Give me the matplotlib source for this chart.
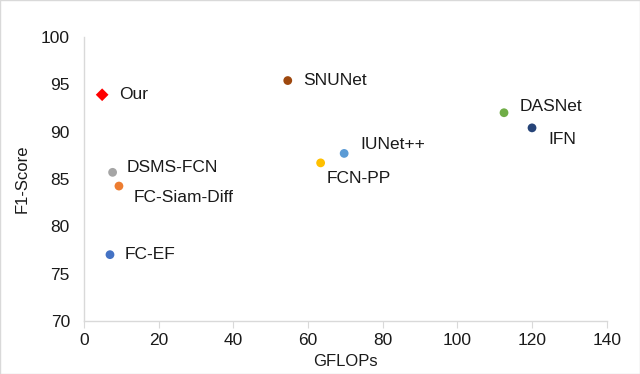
import matplotlib
matplotlib.use("Agg")
import matplotlib.pyplot as plt
from matplotlib.patches import Rectangle

plt.rcParams['font.family'] = ['Liberation Sans', 'DejaVu Sans']

# data
names = ['Our', 'SNUNet', 'DASNet', 'IFN', 'IUNet++', 'FCN-PP',
         'DSMS-FCN', 'FC-Siam-Diff', 'FC-EF']
gflops = [4.9, 54.6, 112.5, 120.0, 69.7, 63.4, 7.7, 9.4, 7.0]
f1 = [93.9, 95.4, 92.0, 90.4, 87.7, 86.7, 85.7, 84.25, 77.0]
colors = ['#FF0000', '#9E480E', '#70AD47', '#264478', '#5B9BD5',
          '#FFC000', '#A5A5A5', '#ED7D31', '#4472C4']
markers = ['D', 'o', 'o', 'o', 'o', 'o', 'o', 'o', 'o']
# label offsets in pixels
offsets = [(17, 0), (15, 0), (16, 6), (16, -12), (16, 9), (6, -16),
           (14, 5), (15, -11), (15, 0)]

fig = plt.figure(figsize=(6.4, 3.74), dpi=100)
ax = fig.add_axes([0.131, 0.142, 0.817, 0.759])
fig.patches.append(Rectangle((0, 0), 1, 1, transform=fig.transFigure,
                             fill=False, edgecolor='#D9D9D9', linewidth=1))

for x, y, c, m in zip(gflops, f1, colors, markers):
    ax.scatter(x, y, color=c, marker=m, s=42 if m == 'D' else 40,
               edgecolors='none', zorder=3)

for n, x, y, (dx, dy) in zip(names, gflops, f1, offsets):
    ax.annotate(n, (x, y), xytext=(dx, dy), textcoords='offset pixels',
                ha='left', va='center', fontsize=12.5, color='#1a1a1a')

ax.set_xlim(0, 140)
ax.set_ylim(70, 100)
ax.set_xticks(range(0, 141, 20))
ax.set_yticks(range(70, 101, 5))
for s in ['top', 'right']:
    ax.spines[s].set_visible(False)
for s in ['left', 'bottom']:
    ax.spines[s].set_color('#D9D9D9')
    ax.spines[s].set_linewidth(1)
ax.tick_params(axis='x', colors='#D9D9D9', length=5, direction='out',
               labelcolor='#1a1a1a', labelsize=12.5, pad=4)
ax.tick_params(axis='y', length=0, labelcolor='#1a1a1a', labelsize=12.5, pad=10)

ax.set_xlabel('GFLOPs', fontsize=12, color='#1a1a1a', labelpad=4)
ax.set_ylabel('F1-Score', fontsize=12, color='#1a1a1a', labelpad=8)

fig.savefig('out.png', dpi=100)
